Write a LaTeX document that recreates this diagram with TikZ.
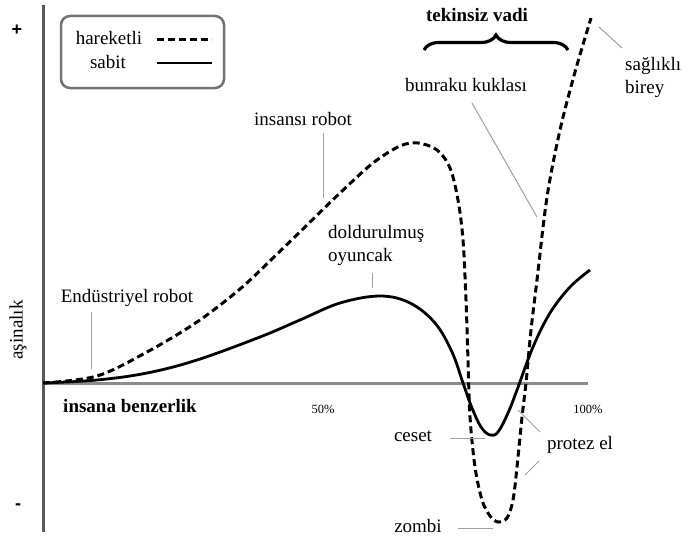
\documentclass[tikz,border=0pt]{standalone}
\usepackage{fontspec}
\setmainfont{Liberation Serif}
\newfontfamily\signfont{Liberation Sans}
\usetikzlibrary{decorations.pathreplacing}
\begin{document}
\begin{tikzpicture}[x=1pt,y=-1pt,
  lbl/.style={font=\fontsize{19}{21}\selectfont, inner sep=0pt},
  blbl/.style={font=\fontsize{19}{21}\selectfont\bfseries, inner sep=0pt},
  sign/.style={font=\signfont\fontsize{18}{20}\selectfont\bfseries, inner sep=0pt},
  pct/.style={font=\fontsize{12.5}{14}\selectfont, inner sep=0pt},
  leader/.style={draw=gray!75, line width=1pt},
  movcurve/.style={line width=3pt, dash pattern=on 7pt off 4pt},
  stcurve/.style={line width=2.8pt},
  axisv/.style={draw=black!65, line width=3pt},
  axish/.style={draw=black!45, line width=3pt}]
\useasboundingbox (0,0) rectangle (682,543);

% axes
\coordinate (vtop) at (43,5);
\coordinate (vbot) at (43,532);
\coordinate (o) at (43,383);
\coordinate (hend) at (588,383);
\draw[axisv] (vtop) -- (vbot);
\draw[axish] (o) -- (hend);

\node[sign] (plus) at (17,30) {+};
\node[sign] (minus) at (18,507) {-};
\node[lbl, rotate=90] (asinalik) at (18,330) {aşinalık};

% legend
\draw[draw=black!55, line width=2.5pt, rounded corners=9pt] (61,16) rectangle (224,88);
\node[lbl] (hareketli) at (109,38) {hareketli};
\node[lbl] (sabit) at (108,62) {sabit};
\coordinate (ld1) at (157,40);
\coordinate (ld2) at (212,40);
\coordinate (ls1) at (157,63);
\coordinate (ls2) at (212,63);
\draw[movcurve] (ld1) -- (ld2);
\draw[line width=1.6pt] (ls1) -- (ls2);

% labels
\node[blbl] (tekinsiz) at (477,15) {tekinsiz vadi};
\coordinate (br1) at (424,50);
\coordinate (br2) at (568,50);
\draw[line width=3.2pt, decorate, decoration={brace, amplitude=15pt}] (br1) -- (br2);
\node[lbl] (bunraku) at (466,85) {bunraku kuklası};
\node[lbl, anchor=west] (saglikli) at (625,66) {sağlıklı};
\node[lbl, anchor=west] (birey) at (625,89) {birey};
\node[lbl] (insansi) at (303,119) {insansı robot};
\node[lbl, anchor=west] (doldurulmus) at (328,234) {doldurulmuş};
\node[lbl, anchor=west] (oyuncak) at (328,257) {oyuncak};
\node[lbl] (endustriyel) at (127,298) {Endüstriyel robot};
\node[blbl] (benzerlik) at (130,406) {insana benzerlik};
\node[pct] (p50) at (323,409) {50\%};
\node[pct] (p100) at (588,409) {100\%};
\node[lbl] (ceset) at (413,436) {ceset};
\node[lbl] (protez) at (580,445) {protez el};
\node[lbl] (zombi) at (418,526) {zombi};

% curves
\draw[movcurve] plot[smooth, tension=0.55] coordinates {
 (43,383) (97,376) (147,352) (197,322) (240,289) (273,258) (307,225) (340,193)
 (373,163) (400,146) (418,143) (437,150) (450,168) (458,200) (463,240) (466,300)
 (468,360) (470,417) (475,467) (482,500) (490,516) (498,522) (507,518) (513,500)
 (517,467) (522,417) (526,383) (531,330) (537,280) (547,197) (560,130) (575,72) (591,18)};
\draw[stcurve] plot[smooth, tension=0.6] coordinates {
 (43,383) (97,380) (147,373) (197,360) (260,337) (300,320) (340,303) (380,296)
 (410,303) (435,323) (452,352) (463,383) (472,408) (481,427) (490,435)
 (498,432) (508,413) (517,390) (533,347) (550,313) (570,287) (590,270)};

% leaders
\coordinate (c-ins) at (323,198);
\draw[leader] (323,133) -- (c-ins);
\coordinate (c-dol) at (372,288);
\draw[leader] (372,273) -- (c-dol);
\coordinate (c-end) at (91,369);
\draw[leader] (91,312) -- (c-end);
\coordinate (c-bun) at (537,217);
\draw[leader] (472,103) -- (c-bun);
\coordinate (c-sag) at (599,27);
\draw[leader] (622,48) -- (c-sag);
\coordinate (c-ces) at (485,438);
\draw[leader] (450,438) -- (c-ces);
\coordinate (c-zom) at (493,528);
\draw[leader] (458,528) -- (c-zom);
\coordinate (c-pro1) at (518,410);
\draw[leader] (540,432) -- (c-pro1);
\coordinate (c-pro2) at (525,475);
\draw[leader] (539,461) -- (c-pro2);
\end{tikzpicture}
\end{document}
